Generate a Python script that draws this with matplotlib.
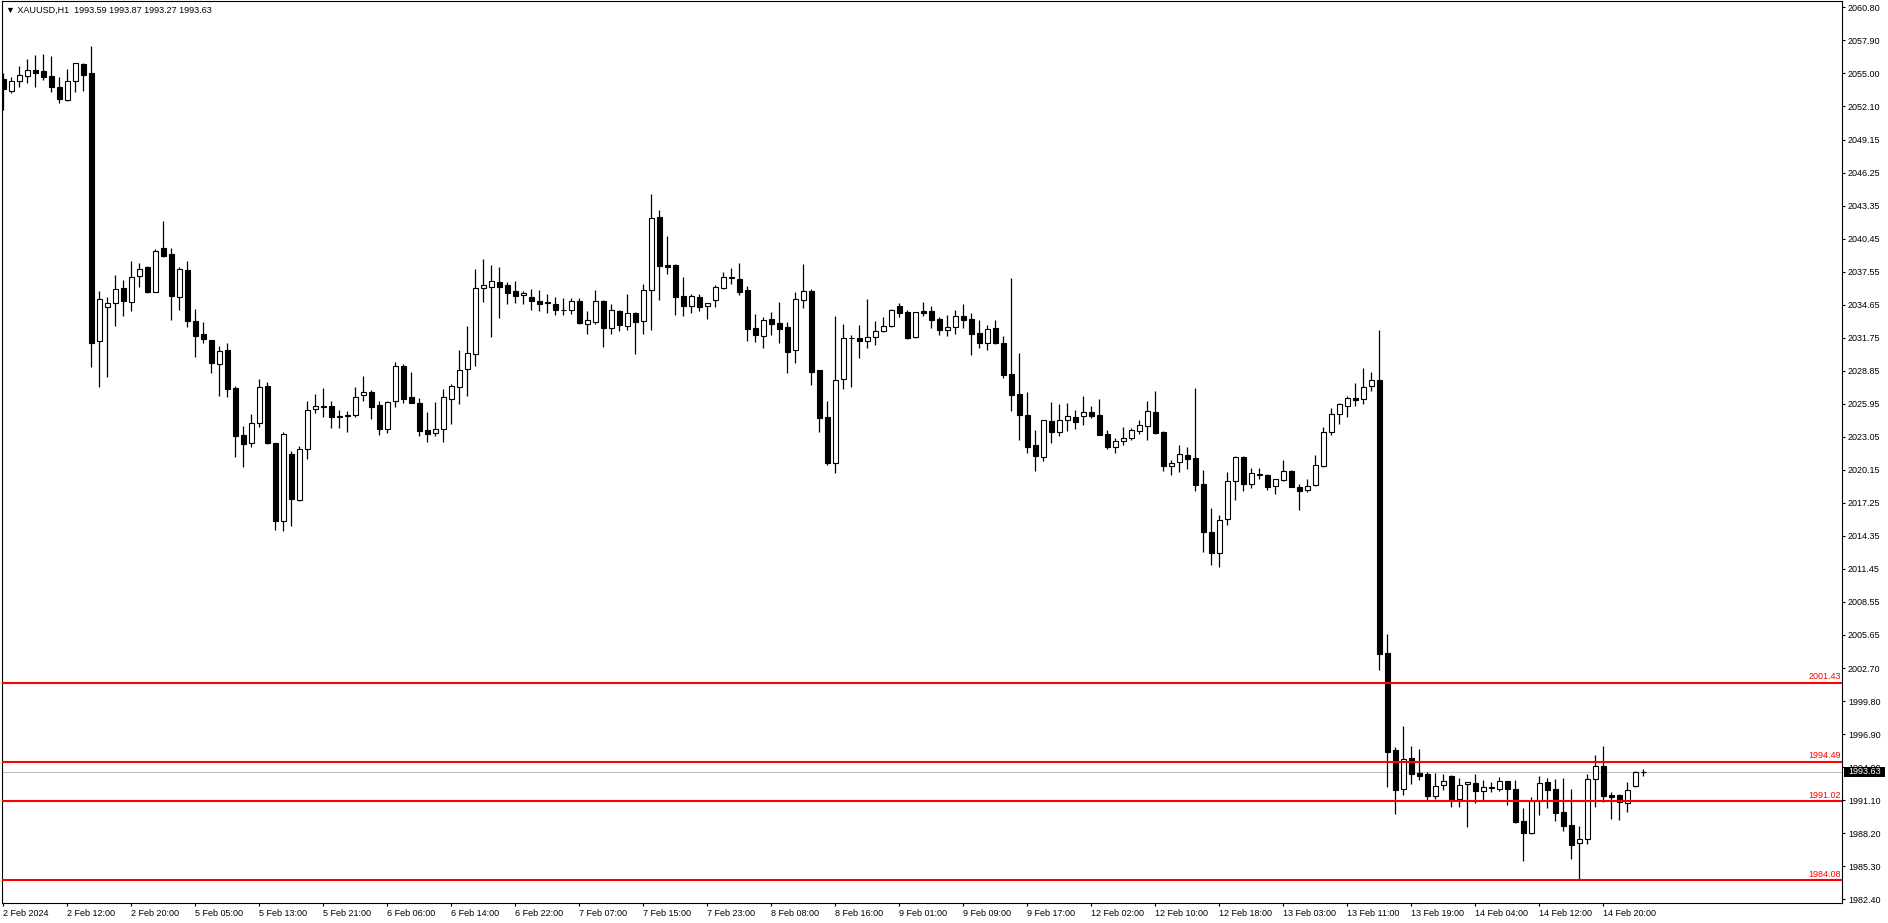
import matplotlib.pyplot as plt
from matplotlib.patches import Rectangle
from matplotlib.transforms import blended_transform_factory
import numpy as np

# MT4 style chart, Tahoma-ish small text
plt.rcParams['font.family'] = ['Liberation Sans', 'DejaVu Sans']

title = "\u25bc XAUUSD,H1  1993.59 1993.87 1993.27 1993.63"

# hourly candles, 2 Feb 2024 04:00 .. 15 Feb 2024 01:00
opens = [2054.46, 2053.47, 2054.29, 2054.73, 2055.28, 2055.17, 2054.76, 2053.76, 2052.65, 2054.35,
         2055.81, 2054.99, 2031.43, 2034.48, 2034.77, 2036.09, 2034.92, 2037.21, 2037.94, 2035.80,
         2039.61, 2039.08, 2035.36, 2037.70, 2033.22, 2032.08, 2031.55, 2029.41, 2030.67, 2027.33,
         2023.20, 2022.47, 2024.23, 2027.51, 2022.47, 2015.67, 2021.53, 2017.49, 2021.94, 2025.46,
         2025.75, 2025.76, 2024.88, 2024.96, 2024.94, 2026.69, 2026.96, 2025.81, 2023.70, 2026.16,
         2029.24, 2026.52, 2025.99, 2023.62, 2023.35, 2023.70, 2026.40, 2027.45, 2028.98, 2030.30,
         2036.10, 2036.19, 2036.62, 2036.36, 2035.83, 2035.48, 2035.31, 2034.96, 2034.87, 2034.69,
         2034.19, 2034.16, 2034.96, 2033.00, 2033.17, 2034.96, 2032.64, 2034.08, 2032.82, 2033.90,
         2033.26, 2035.92, 2042.34, 2038.12, 2038.12, 2035.39, 2034.57, 2035.31, 2034.52, 2035.04,
         2036.16, 2037.07, 2036.89, 2035.92, 2032.58, 2031.88, 2033.38, 2033.02, 2032.67, 2030.65,
         2035.04, 2035.87, 2028.89, 2024.76, 2020.72, 2028.10, 2031.72, 2031.70, 2031.44, 2031.79,
         2032.32, 2032.76, 2034.52, 2033.99, 2031.79, 2034.11, 2034.11, 2033.38, 2032.41, 2032.67,
         2033.64, 2033.38, 2032.14, 2031.26, 2032.58, 2031.26, 2028.54, 2026.78, 2024.94, 2022.30,
         2021.30, 2024.41, 2023.45, 2024.50, 2024.79, 2024.85, 2025.23, 2024.94, 2023.27, 2022.13,
         2022.65, 2022.92, 2023.53, 2023.97, 2025.20, 2023.45, 2020.52, 2020.87, 2021.42, 2021.16,
         2018.88, 2014.66, 2012.87, 2015.80, 2019.14, 2021.25, 2018.88, 2019.75, 2019.67, 2018.70,
         2019.23, 2020.02, 2018.61, 2018.35, 2018.79, 2020.52, 2023.45, 2025.03, 2025.73, 2026.43,
         2026.35, 2027.49, 2028.05, 2004.07, 1995.53, 1992.14, 1994.84, 1993.52, 1993.43, 1991.51,
         1992.42, 1993.24, 1991.20, 1992.52, 1992.61, 1991.95, 1992.30, 1992.14, 1992.77, 1992.10,
         1989.29, 1988.26, 1991.04, 1992.68, 1992.10, 1990.05, 1988.93, 1987.32, 1987.67, 1992.95,
         1994.09, 1991.54, 1991.54, 1990.84, 1992.39, 1993.59]
highs = [2055.05, 2054.70, 2055.64, 2056.22, 2056.60, 2056.69, 2056.51, 2054.70, 2055.34, 2055.93,
         2055.93, 2057.39, 2035.83, 2035.30, 2037.24, 2036.83, 2038.52, 2038.29, 2038.05, 2039.58,
         2042.01, 2039.61, 2037.94, 2038.50, 2034.25, 2033.10, 2031.60, 2031.02, 2031.26, 2027.51,
         2023.99, 2025.05, 2028.09, 2027.86, 2022.50, 2023.46, 2021.82, 2022.23, 2026.22, 2026.80,
         2027.30, 2026.22, 2025.40, 2025.31, 2027.40, 2028.39, 2027.16, 2026.16, 2026.16, 2029.62,
         2029.45, 2028.74, 2026.43, 2025.23, 2026.10, 2027.22, 2027.69, 2030.68, 2032.79, 2037.80,
         2038.68, 2038.15, 2037.94, 2036.65, 2036.74, 2035.83, 2036.04, 2035.95, 2035.60, 2035.34,
         2035.25, 2035.25, 2035.25, 2034.10, 2035.95, 2035.07, 2034.69, 2034.19, 2035.60, 2033.99,
         2036.48, 2044.39, 2042.95, 2040.70, 2038.21, 2037.06, 2035.57, 2035.60, 2034.80, 2036.36,
         2037.50, 2037.86, 2038.36, 2036.30, 2033.84, 2033.58, 2034.02, 2034.90, 2033.14, 2035.75,
         2038.24, 2036.01, 2028.92, 2026.17, 2033.67, 2032.96, 2032.00, 2032.88, 2035.16, 2033.23,
         2033.58, 2034.25, 2034.81, 2034.17, 2034.01, 2034.90, 2034.55, 2033.55, 2033.76, 2034.17,
         2034.69, 2033.90, 2033.29, 2032.85, 2033.29, 2031.88, 2036.98, 2030.39, 2026.96, 2023.62,
         2024.52, 2026.08, 2025.94, 2026.02, 2025.41, 2026.64, 2025.76, 2026.38, 2023.62, 2022.92,
         2023.89, 2023.80, 2024.53, 2026.20, 2027.08, 2023.53, 2020.98, 2022.33, 2022.16, 2027.34,
         2020.11, 2016.77, 2016.15, 2019.93, 2021.34, 2021.34, 2020.28, 2020.28, 2019.75, 2019.34,
         2021.01, 2020.11, 2018.88, 2019.32, 2021.45, 2023.89, 2025.56, 2026.00, 2026.64, 2027.78,
         2029.10, 2028.75, 2032.44, 2005.76, 1995.81, 1997.63, 1995.88, 1995.62, 1993.58, 1993.52,
         1993.43, 1993.30, 1993.08, 1992.70, 1993.40, 1992.90, 1992.71, 1993.14, 1992.79, 1992.89,
         1990.46, 1991.37, 1993.24, 1993.04, 1992.95, 1993.04, 1992.10, 1988.85, 1993.39, 1995.09,
         1995.88, 1991.80, 1991.63, 1992.68, 1993.71, 1993.87]
lows = [2051.77, 2053.29, 2053.82, 2054.17, 2053.82, 2054.41, 2053.38, 2052.35, 2052.59, 2053.38,
        2053.47, 2029.21, 2027.45, 2028.33, 2032.78, 2033.66, 2034.13, 2036.18, 2035.70, 2035.75,
        2038.88, 2033.31, 2034.19, 2032.72, 2030.09, 2031.26, 2028.68, 2026.63, 2026.57, 2021.24,
        2020.42, 2022.12, 2023.87, 2022.40, 2014.85, 2014.80, 2015.20, 2017.40, 2021.12, 2025.11,
        2024.81, 2023.79, 2023.79, 2023.50, 2024.82, 2026.22, 2024.64, 2023.24, 2023.35, 2025.64,
        2025.99, 2025.99, 2023.15, 2022.62, 2023.15, 2022.62, 2024.17, 2025.93, 2026.63, 2029.30,
        2034.93, 2031.85, 2033.52, 2034.75, 2034.84, 2034.75, 2034.22, 2034.13, 2033.96, 2033.78,
        2033.78, 2033.84, 2033.00, 2032.12, 2033.00, 2030.97, 2032.12, 2032.38, 2032.46, 2030.35,
        2032.12, 2032.46, 2035.10, 2037.39, 2033.78, 2033.70, 2033.96, 2034.13, 2033.43, 2034.49,
        2036.07, 2036.48, 2035.54, 2031.50, 2031.38, 2030.88, 2032.03, 2031.32, 2028.69, 2029.57,
        2034.40, 2027.60, 2023.50, 2020.60, 2019.90, 2027.28, 2027.46, 2030.00, 2030.88, 2031.15,
        2032.30, 2032.74, 2033.61, 2031.65, 2031.77, 2033.67, 2032.64, 2032.03, 2031.94, 2032.06,
        2032.64, 2030.27, 2030.88, 2030.71, 2031.24, 2028.25, 2025.35, 2022.80, 2021.66, 2020.07,
        2020.95, 2022.53, 2023.15, 2023.59, 2023.77, 2024.12, 2024.73, 2023.22, 2021.98, 2021.66,
        2022.36, 2022.74, 2023.33, 2022.80, 2023.33, 2020.08, 2019.73, 2019.99, 2020.25, 2018.32,
        2012.96, 2011.81, 2011.64, 2015.33, 2017.53, 2018.32, 2018.58, 2019.37, 2018.41, 2018.06,
        2019.21, 2018.65, 2016.65, 2018.17, 2018.77, 2020.43, 2023.18, 2024.21, 2024.82, 2025.79,
        2025.91, 2027.11, 2002.56, 1992.27, 1989.91, 1991.57, 1992.55, 1992.93, 1991.17, 1991.20,
        1992.05, 1990.54, 1990.54, 1988.75, 1990.89, 1991.17, 1991.80, 1991.95, 1990.73, 1989.14,
        1985.80, 1988.14, 1989.81, 1990.46, 1989.31, 1988.44, 1985.97, 1984.16, 1987.29, 1990.55,
        1990.93, 1989.49, 1989.40, 1990.11, 1992.24, 1993.27]
closes = [2053.58, 2054.35, 2054.82, 2055.25, 2054.99, 2054.70, 2053.76, 2052.71, 2054.35, 2055.87,
          2054.87, 2031.32, 2035.13, 2034.77, 2036.00, 2035.01, 2037.12, 2037.82, 2035.80, 2039.35,
          2038.96, 2035.45, 2037.76, 2033.25, 2031.93, 2031.67, 2029.50, 2030.61, 2027.27, 2023.11,
          2022.44, 2024.23, 2027.39, 2022.47, 2015.67, 2023.29, 2017.60, 2021.94, 2025.40, 2025.75,
          2025.63, 2024.76, 2024.76, 2024.85, 2026.58, 2026.96, 2025.70, 2023.70, 2026.10, 2029.24,
          2026.40, 2026.05, 2023.59, 2023.32, 2023.70, 2026.52, 2027.48, 2028.89, 2030.38, 2036.10,
          2036.36, 2036.71, 2036.24, 2035.72, 2035.45, 2035.66, 2035.01, 2034.75, 2034.78, 2034.16,
          2034.19, 2034.96, 2033.08, 2033.29, 2034.96, 2032.64, 2034.16, 2032.90, 2033.90, 2033.17,
          2035.92, 2042.25, 2038.09, 2038.00, 2035.37, 2034.57, 2035.39, 2034.49, 2034.78, 2036.19,
          2037.06, 2036.98, 2035.81, 2032.55, 2031.97, 2033.29, 2032.99, 2032.55, 2030.53, 2035.13,
          2035.84, 2028.78, 2024.73, 2020.78, 2028.01, 2031.70, 2031.70, 2031.50, 2031.79, 2032.32,
          2032.76, 2034.17, 2033.96, 2031.76, 2033.99, 2033.96, 2033.29, 2032.47, 2032.67, 2033.64,
          2033.29, 2032.12, 2031.32, 2032.50, 2031.26, 2028.51, 2026.75, 2024.99, 2022.18, 2021.39,
          2024.50, 2023.50, 2024.53, 2024.85, 2024.38, 2025.20, 2024.91, 2023.24, 2022.16, 2022.65,
          2022.92, 2023.62, 2024.06, 2025.29, 2023.42, 2020.52, 2020.72, 2021.51, 2021.13, 2018.85,
          2014.71, 2012.87, 2015.71, 2019.14, 2021.25, 2018.93, 2019.84, 2019.73, 2018.67, 2019.32,
          2020.02, 2018.67, 2018.32, 2018.70, 2020.55, 2023.45, 2025.03, 2025.91, 2026.43, 2026.32,
          2027.40, 2028.02, 2003.97, 1995.34, 1992.02, 1994.71, 1993.43, 1993.24, 1991.48, 1992.36,
          1992.80, 1991.26, 1992.42, 1992.68, 1991.95, 1992.27, 1992.17, 1992.77, 1992.14, 1989.23,
          1988.26, 1991.04, 1992.60, 1992.04, 1990.02, 1988.88, 1987.21, 1987.67, 1992.95, 1994.09,
          1991.51, 1991.42, 1990.93, 1991.98, 1993.56, 1993.63]

time_labels = ["2 Feb 2024", "2 Feb 12:00", "2 Feb 20:00", "5 Feb 05:00", "5 Feb 13:00",
               "5 Feb 21:00", "6 Feb 06:00", "6 Feb 14:00", "6 Feb 22:00", "7 Feb 07:00",
               "7 Feb 15:00", "7 Feb 23:00", "8 Feb 08:00", "8 Feb 16:00", "9 Feb 01:00",
               "9 Feb 09:00", "9 Feb 17:00", "12 Feb 02:00", "12 Feb 10:00", "12 Feb 18:00",
               "13 Feb 03:00", "13 Feb 11:00", "13 Feb 19:00", "14 Feb 04:00", "14 Feb 12:00",
               "14 Feb 20:00"]
price_labels = ["2060.80", "2057.90", "2055.00", "2052.10", "2049.15", "2046.25", "2043.35",
                "2040.45", "2037.55", "2034.65", "2031.75", "2028.85", "2025.95", "2023.05",
                "2020.15", "2017.25", "2014.35", "2011.45", "2008.55", "2005.65", "2002.70",
                "1999.80", "1996.90", "1994.00", "1991.10", "1988.20", "1985.30", "1982.40"]
levels = [2001.43, 1994.49, 1991.02, 1984.08]
bid = 1993.63

o = np.array(opens)
h = np.array(highs)
l = np.array(lows)
c = np.array(closes)
x = np.arange(len(o))

W, H = 1888, 923
fig = plt.figure(figsize=(W / 100, H / 100), dpi=100)
ax = fig.add_axes([2 / W, 20 / H, 1840 / W, 902 / H])
ax.set_xlim(-0.16, 229.84)
ax.set_ylim(1982.08, 2061.35)

# bid line under the candles
ax.axhline(bid, color="#c0c0c0", lw=0.8, zorder=1)

# candles: wick then body
ax.vlines(x, l, h, color="black", lw=0.9, zorder=2)
up = c >= o
ax.bar(x, np.abs(c - o), bottom=np.minimum(o, c), width=0.6,
       color=np.where(up, "white", "black"), edgecolor="black", lw=0.8, zorder=3)

# horizontal levels
trans = blended_transform_factory(ax.transAxes, ax.transData)
for lv in levels:
    ax.axhline(lv, color="red", lw=1.5, zorder=4)
    ax.text(0.9993, lv + 0.12, f"{lv:.2f}", transform=trans, color="red",
            ha="right", va="bottom", fontsize=6.5, zorder=4)

# axes look
for sp in ax.spines.values():
    sp.set_color("black")
    sp.set_linewidth(0.8)
ax.yaxis.tick_right()
ax.set_yticks([float(p) for p in price_labels], price_labels)
ax.set_xticks(np.arange(0, 8 * len(time_labels), 8), time_labels)
ax.tick_params(axis="y", direction="out", length=2.5, width=0.8, pad=1.8, labelsize=6.5)
ax.tick_params(axis="x", direction="out", length=2.5, width=0.8, pad=1.5, labelsize=6.5)
for lbl in ax.get_xticklabels():
    lbl.set_ha("left")

# current price box on the scale
ax.add_patch(Rectangle((1.001, bid - 0.44), 0.0223, 0.88, transform=trans,
                       facecolor="black", edgecolor="none", clip_on=False, zorder=6))
ax.text(1.0033, bid, f"{bid:.2f}", transform=trans, color="white", ha="left",
        va="center", fontsize=6.5, zorder=7, clip_on=False)

fig.text(6 / W, 1 - 10 / H, title, fontsize=6.5, va="center", ha="left")

fig.savefig("out.png", dpi=100)
